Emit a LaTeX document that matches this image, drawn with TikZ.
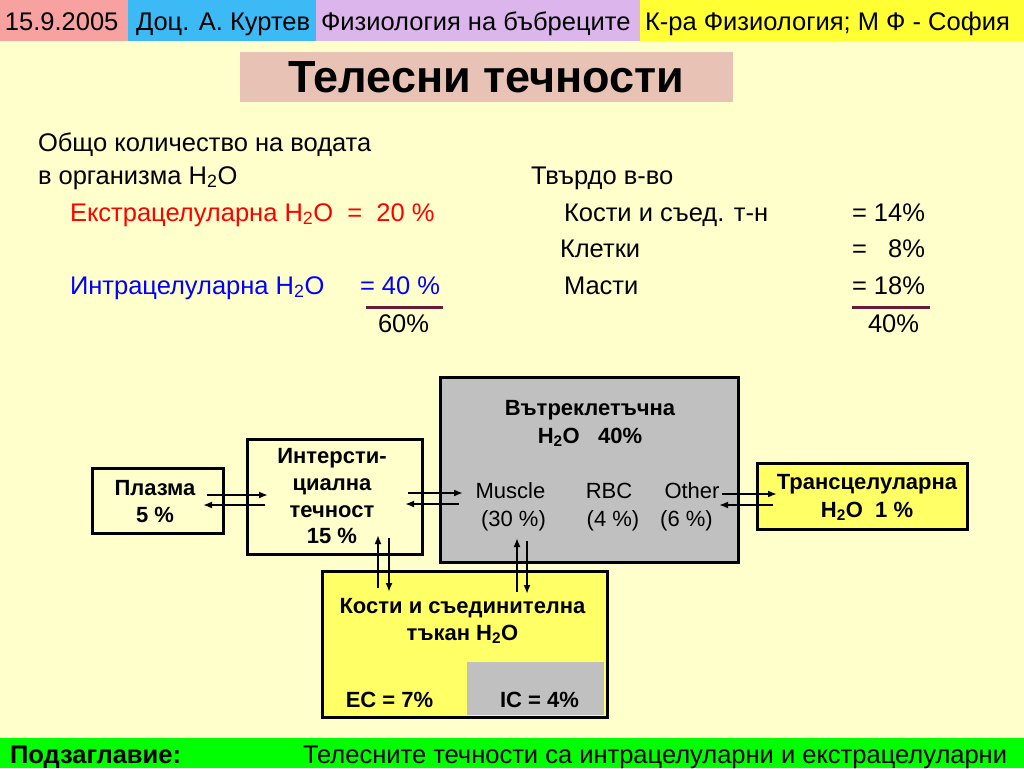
\documentclass[tikz,border=0pt]{standalone}
\usepackage{fontspec}
\setmainfont{Liberation Sans}
\usetikzlibrary{arrows.meta}

\definecolor{slidebg}{HTML}{FFFFCC}
\definecolor{datepink}{HTML}{F7A1A1}
\definecolor{authorblue}{HTML}{3BBAF5}
\definecolor{courselilac}{HTML}{DCB5EC}
\definecolor{deptyellow}{HTML}{FFFF33}
\definecolor{titlerose}{HTML}{E8C3B5}
\definecolor{cellgray}{HTML}{C0C0C0}
\definecolor{boxyellow}{HTML}{FFFF66}
\definecolor{footgreen}{HTML}{00FF00}
\definecolor{summaroon}{HTML}{6B1A3A}

\newcommand{\water}{H\textsubscript{2}O}

\begin{document}
\begin{tikzpicture}[x=1pt, y=-1pt,
    every node/.style={inner sep=0pt, outer sep=0pt},
    band/.style={anchor=north west, minimum height=41pt},
    hdr/.style={anchor=base west, font=\fontsize{25.5}{28}\selectfont},
    txt/.style={anchor=base west, font=\fontsize{25.5}{28}\selectfont},
    box/.style={draw, line width=3pt},
    lbl/.style={anchor=base, font=\bfseries\fontsize{22}{26}\selectfont},
    inner/.style={anchor=base, font=\fontsize{22}{26}\selectfont},
    flow/.style={-{Latex[length=9pt,width=7pt]}, line width=2pt},
    sumline/.style={draw=summaroon, line width=3pt}
]
\useasboundingbox[fill=slidebg] (0,0) rectangle (1024,768);

% header
\node[band, fill=datepink, minimum width=128pt] (date) at (0,0) {};
\node[band, fill=authorblue, minimum width=188pt] (author) at (128,0) {};
\node[band, fill=courselilac, minimum width=325pt] (course) at (316,0) {};
\node[band, fill=deptyellow, minimum width=384pt] (dept) at (640,0) {};
\node[hdr] at (5,31) {15.9.2005};
\node[hdr] at (136,31) {Доц. А. Куртев};
\node[hdr] at (321,31) {Физиология на бъбреците};
\node[hdr] at (645,31) {К-ра Физиология; М Ф - София};

% title
\node[fill=titlerose, minimum width=493pt, minimum height=50pt,
      font=\bfseries\fontsize{45}{48}\selectfont] (title) at (486.5,77) {Телесни течности};

% body, left column
\node[txt] (total) at (38,151) {Общо количество на водата};
\node[txt] (organism) at (38,184) {в организма \water};
\node[txt, text=red] (extra) at (70,221) {Екстрацелуларна \water\ \ =\ \ 20 \%};
\node[txt, text=blue] (intra-txt) at (70,294) {Интрацелуларна \water};
\node[txt, text=blue] (intra-val) at (360,294) {= 40 \%};
\node[txt] (water-sum) at (378,332) {60\%};
\draw[sumline] (366,307) -- (443,307);

% body, right column
\node[txt] (solid) at (531,184) {Твърдо в-во};
\node[txt] (bones) at (564,221) {Кости и съед. т-н};
\node[txt] (bones-val) at (852,221) {= 14\%};
\node[txt] (cells) at (560,257) {Клетки};
\node[txt] (cells-val) at (852,257) {=\ \ \ 8\%};
\node[txt] (fat) at (564,294) {Масти};
\node[txt] (fat-val) at (852,294) {= 18\%};
\node[txt] (solid-sum) at (868,332) {40\%};
\draw[sumline] (852,307) -- (930,307);

% compartments
\node[box, minimum width=131pt, minimum height=65pt] (plasma) at (157.5,500.5) {};
\node[box, minimum width=175pt, minimum height=115pt] (inter) at (334.5,496.5) {};
\node[box, fill=cellgray, minimum width=298pt, minimum height=185pt] (intra) at (589,469.5) {};
\node[box, fill=boxyellow, minimum width=210pt, minimum height=66pt] (trans) at (862,496) {};
\node[box, fill=boxyellow, minimum width=285pt, minimum height=146pt] (bone) at (464.5,644) {};
\node[fill=cellgray, minimum width=137pt, minimum height=53pt] (bone-ic) at (535.5,688.5) {};

\node[lbl] at (155,495) {Плазма};
\node[lbl] at (155,522) {5 \%};
\node[lbl] at (332,463) {Интерсти-};
\node[lbl] at (332,490) {циална};
\node[lbl] at (332,517) {течност};
\node[lbl] at (332,543) {15 \%};
\node[lbl] at (590,415) {Вътреклетъчна};
\node[lbl] at (590,443) {\water\ \ \ 40\%};
\node[inner] (muscle) at (510.5,498) {Muscle};
\node[inner] at (513.5,526) {(30 \%)};
\node[inner] (rbc) at (609,498) {RBC};
\node[inner] at (613,526) {(4 \%)};
\node[inner] (other) at (692,498) {Other};
\node[inner] at (686.5,526) {(6 \%)};
\node[lbl] at (867,489) {Трансцелуларна};
\node[lbl] at (867,517) {\water\ \ 1 \%};
\node[lbl] at (462.5,613) {Кости и съединителна};
\node[lbl] at (462.5,640) {тъкан \water};
\node[lbl] (bone-ec) at (389.5,707) {EC = 7\%};
\node[lbl] at (539.5,707) {IC = 4\%};

% exchange arrows
\draw[flow] ([xshift=-16pt,yshift=5.5pt]plasma.east) -- ([xshift=21pt,yshift=1.5pt]inter.west);
\draw[flow] ([xshift=18pt,yshift=-8.5pt]inter.west) -- ([xshift=-20pt,yshift=-4.5pt]plasma.east);
\draw[flow] ([xshift=-14pt,yshift=3.5pt]inter.east) -- ([xshift=23pt,yshift=-23.5pt]intra.west);
\draw[flow] ([xshift=19pt,yshift=-34.5pt]intra.west) -- ([xshift=-17pt,yshift=-7.5pt]inter.east);
\draw[flow] ([xshift=-16pt,yshift=-24.5pt]intra.east) -- ([xshift=20pt,yshift=2pt]trans.west);
\draw[flow] ([xshift=16pt,yshift=-9pt]trans.west) -- ([xshift=-19pt,yshift=-35.5pt]intra.east);
\draw[flow] ([xshift=-86.5pt,yshift=-17pt]bone.north) -- ([xshift=43.5pt,yshift=19pt]inter.south);
\draw[flow] ([xshift=54.5pt,yshift=16pt]inter.south) -- ([xshift=-75.5pt,yshift=-21pt]bone.north);
\draw[flow] ([xshift=52.5pt,yshift=-21pt]bone.north) -- ([xshift=-72pt,yshift=24pt]intra.south);
\draw[flow] ([xshift=-62pt,yshift=21pt]intra.south) -- ([xshift=62.5pt,yshift=-23pt]bone.north);

% footer
\node[anchor=north west, fill=footgreen, minimum width=1024pt, minimum height=30pt] (footer) at (0,738) {};
\node[txt, font=\bfseries\fontsize{25.5}{28}\selectfont] (subtitle) at (10,763) {Подзаглавие:};
\node[txt] (subtitle-txt) at (303,763) {Телесните течности са интрацелуларни и екстрацелуларни};
\end{tikzpicture}
\end{document}
